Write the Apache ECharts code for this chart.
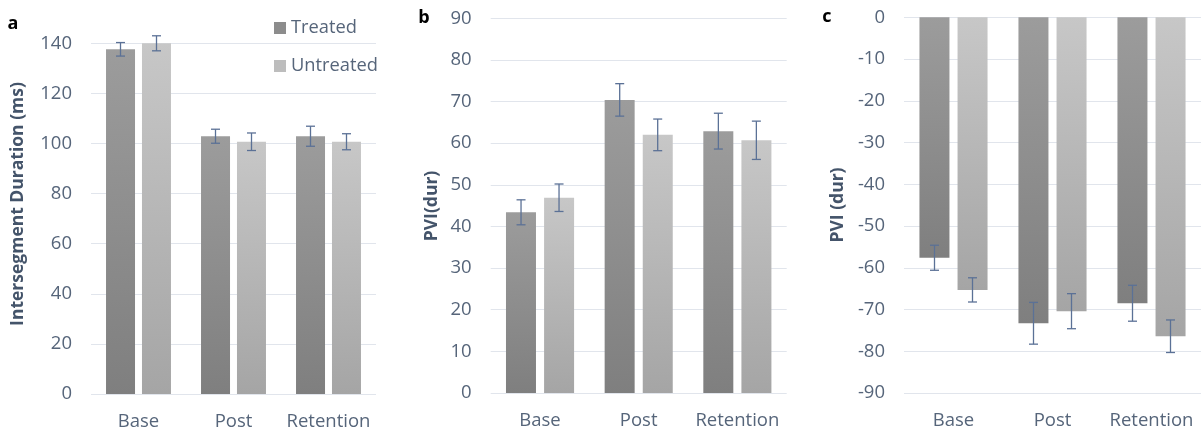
<!DOCTYPE html>
<html>
<head>
<meta charset="utf-8">
<script src="https://cdn.jsdelivr.net/npm/echarts@6/dist/echarts.min.js"></script>
<style>
html,body{margin:0;padding:0;background:#fff;}
#chart{width:1201px;height:432px;}
</style>
</head>
<body>
<div id="chart"></div>
<script>
// ---- data ----
var categories = ['Base', 'Post', 'Retention'];
var seriesNames = ['Treated', 'Untreated'];

var aTreated = [137.6, 102.9, 102.9];
var aTreatedErr = [2.7, 2.8, 4.0];
var aUntreated = [140.0, 100.7, 100.7];
var aUntreatedErr = [3.0, 3.5, 3.2];

var bTreated = [43.4, 70.4, 62.9];
var bTreatedErr = [3.0, 3.9, 4.3];
var bUntreated = [46.9, 62.0, 60.7];
var bUntreatedErr = [3.3, 3.8, 4.6];

var cTreated = [-57.6, -73.3, -68.5];
var cTreatedErr = [3.0, 5.0, 4.3];
var cUntreated = [-65.3, -70.4, -76.4];
var cUntreatedErr = [2.9, 4.2, 3.9];

var yTitles = ['Intersegment Duration (ms)', 'PVI(dur)', 'PVI (dur)'];
var panelLetters = ['a', 'b', 'c'];

// ---- styles ----
var FONT = 'Open Sans';
var LABEL_COLOR = '#56657a';
var TITLE_COLOR = '#44546a';
var GRID_COLOR = '#e1e5ec';
var ERR_COLOR = '#5b7196';
var TICK_SIZE = 18.5;

function grad(top, bottom) {
  return new echarts.graphic.LinearGradient(0, 0, 0, 1, [
    {offset: 0, color: top}, {offset: 1, color: bottom}
  ]);
}
var treatedFill = function () { return grad('#9c9c9c', '#7f7f7f'); };
var untreatedFill = function () { return grad('#c7c7c7', '#a5a5a5'); };

var grids = [
  {left: 91, top: 43.3, width: 285, height: 350.7},
  {left: 490.7, top: 18.3, width: 296, height: 374.7},
  {left: 904, top: 17.3, width: 298, height: 375.7}
];
var yRanges = [
  {min: 0, max: 140, interval: 20},
  {min: 0, max: 90, interval: 10},
  {min: -90, max: 0, interval: 10}
];
var barWidths = [29, 30, 30];
var barGaps = ['24%', '27%', '27%'];
var errOffsets = [18, 19, 19];

var panelData = [
  [aTreated, aTreatedErr, aUntreated, aUntreatedErr],
  [bTreated, bTreatedErr, bUntreated, bUntreatedErr],
  [cTreated, cTreatedErr, cUntreated, cUntreatedErr]
];

function errRenderer(offset) {
  return function (params, api) {
    var idx = api.value(0), v = api.value(1), e = api.value(2);
    var hi = api.coord([idx, v + e]);
    var lo = api.coord([idx, v - e]);
    var x = hi[0] + offset;
    var cap = 4.5;
    var st = {stroke: ERR_COLOR, lineWidth: 1.3};
    return {
      type: 'group',
      children: [
        {type: 'line', shape: {x1: x, y1: hi[1], x2: x, y2: lo[1]}, style: st},
        {type: 'line', shape: {x1: x - cap, y1: hi[1], x2: x + cap, y2: hi[1]}, style: st},
        {type: 'line', shape: {x1: x - cap, y1: lo[1], x2: x + cap, y2: lo[1]}, style: st}
      ]
    };
  };
}

var xAxes = [], yAxes = [], series = [];
grids.forEach(function (g, i) {
  xAxes.push({
    type: 'category', gridIndex: i, data: categories, position: 'bottom',
    axisLine: {show: false, onZero: false}, axisTick: {show: false},
    axisLabel: {color: LABEL_COLOR, fontFamily: FONT, fontSize: TICK_SIZE, margin: 18, interval: 0}
  });
  yAxes.push({
    type: 'value', gridIndex: i,
    min: yRanges[i].min, max: yRanges[i].max, interval: yRanges[i].interval,
    axisLine: {show: false}, axisTick: {show: false},
    axisLabel: {color: LABEL_COLOR, fontFamily: FONT, fontSize: TICK_SIZE, margin: 19},
    splitLine: {show: true, lineStyle: {color: GRID_COLOR, width: 1}}
  });
  var d = panelData[i];
  series.push({
    name: seriesNames[0], type: 'bar', xAxisIndex: i, yAxisIndex: i,
    data: d[0], barWidth: barWidths[i], barGap: barGaps[i],
    itemStyle: {color: treatedFill()}
  });
  series.push({
    name: seriesNames[1], type: 'bar', xAxisIndex: i, yAxisIndex: i,
    data: d[2], barWidth: barWidths[i], barGap: barGaps[i],
    itemStyle: {color: untreatedFill()}
  });
  series.push({
    name: 'err-t-' + i, type: 'custom', xAxisIndex: i, yAxisIndex: i, z: 5,
    renderItem: errRenderer(-errOffsets[i]),
    data: d[0].map(function (v, k) { return [k, v, d[1][k]]; })
  });
  series.push({
    name: 'err-u-' + i, type: 'custom', xAxisIndex: i, yAxisIndex: i, z: 5,
    renderItem: errRenderer(errOffsets[i]),
    data: d[2].map(function (v, k) { return [k, v, d[3][k]]; })
  });
});

var titlePos = [[18, 204], [432, 206], [838, 205]];
var letterPos = [[13, 24], [424, 18], [827, 17]];
var graphics = [];
yTitles.forEach(function (t, i) {
  graphics.push({
    type: 'text', x: titlePos[i][0], y: titlePos[i][1], rotation: Math.PI / 2,
    style: {text: t, fill: TITLE_COLOR, font: 'bold 17.5px "' + FONT + '"', align: 'center', verticalAlign: 'middle'}
  });
  graphics.push({
    type: 'text', x: letterPos[i][0], y: letterPos[i][1],
    style: {text: panelLetters[i], fill: '#000', font: 'bold 18px "' + FONT + '"', align: 'center', verticalAlign: 'middle'}
  });
});

var chart = echarts.init(document.getElementById('chart'), null, {renderer: 'canvas'});
chart.setOption({
  animation: false,
  backgroundColor: '#ffffff',
  grid: grids.map(function (g) { return Object.assign({containLabel: false}, g); }),
  xAxis: xAxes,
  yAxis: yAxes,
  legend: {
    orient: 'vertical', left: 269, top: 12, itemWidth: 12, itemHeight: 12, itemGap: 16,
    icon: 'rect',
    textStyle: {color: LABEL_COLOR, fontFamily: FONT, fontSize: 18.3, lineHeight: 22},
    data: [
      {name: seriesNames[0], itemStyle: {color: '#8c8c8c'}},
      {name: seriesNames[1], itemStyle: {color: '#bdbdbd'}}
    ]
  },
  graphic: graphics,
  series: series
});
</script>
</body>
</html>
